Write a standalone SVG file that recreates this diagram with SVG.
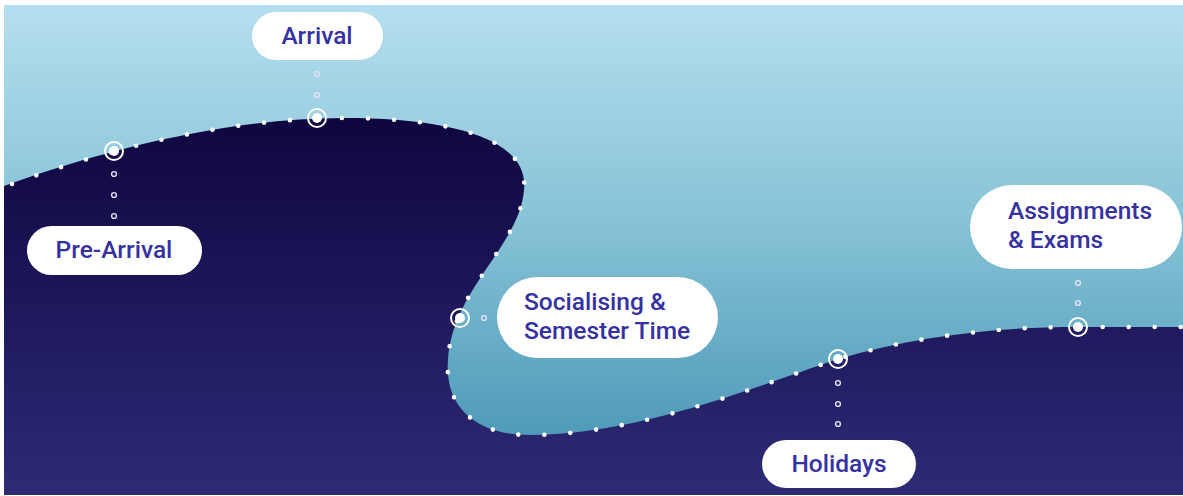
<svg xmlns="http://www.w3.org/2000/svg" width="1183" height="496" viewBox="0 0 1183 496">
  <defs>
    <linearGradient id="sky" x1="0" y1="5" x2="0" y2="495" gradientUnits="userSpaceOnUse">
      <stop offset="0" stop-color="#b5dfee"/>
      <stop offset="0.45" stop-color="#86c2d6"/>
      <stop offset="1" stop-color="#3f8fb0"/>
    </linearGradient>
    <linearGradient id="sea" x1="0" y1="118" x2="0" y2="495" gradientUnits="userSpaceOnUse">
      <stop offset="0" stop-color="#0f0640"/>
      <stop offset="1" stop-color="#2d2b76"/>
    </linearGradient>
    <style>
      .pill { fill: #ffffff; }
      .lbl { font-family: Roboto, "Liberation Sans", sans-serif; font-weight: 500; font-size: 24.5px; fill: #3631a0; }
      .ring { fill: none; stroke: #ffffff; stroke-width: 2; }
      .core { fill: #ffffff; }
      .cdot { fill: none; stroke: #e4e2f7; stroke-width: 1.4; }
      .trail { fill: none; stroke: #ffffff; stroke-width: 4.6; stroke-linecap: round; stroke-dasharray: 0 26; }
    </style>
  </defs>

  <rect x="0" y="0" width="1183" height="496" fill="#ffffff"/>
  <rect x="4" y="5" width="1179" height="490" fill="url(#sky)"/>

  <path id="land" fill="url(#sea)" d="M4,186 C110,148 230,118 345,118 C440,118 530,135 524,190 C520,245 452,290 448,360 C444,410 480,435 529,435 C640,435 760,385 838,359 C920,335 1000,327 1078,327 L1183,327 L1183,495 L4,495 Z"/>

  <path id="trail" class="trail" d="M12,184 C110,148 230,118 345,118 C440,118 530,135 524,190 C520,245 452,290 448,360 C444,410 480,435 529,435 C640,435 760,385 838,359 C920,335 1000,327 1078,327 L1183,327"/>

  <g id="connectors">
    <circle class="cdot" cx="114" cy="174" r="2.4"/>
    <circle class="cdot" cx="114" cy="195" r="2.4"/>
    <circle class="cdot" cx="114" cy="216" r="2.4"/>
    <circle class="cdot" cx="317" cy="74" r="2.4"/>
    <circle class="cdot" cx="317" cy="95" r="2.4"/>
    <circle class="cdot" cx="484" cy="318" r="2.4"/>
    <circle class="cdot" cx="838" cy="383" r="2.4"/>
    <circle class="cdot" cx="838" cy="404" r="2.4"/>
    <circle class="cdot" cx="838" cy="424" r="2.4"/>
    <circle class="cdot" cx="1078" cy="283" r="2.4"/>
    <circle class="cdot" cx="1078" cy="303" r="2.4"/>
  </g>

  <g id="pre-arrival">
    <circle class="ring" cx="114" cy="151" r="9"/>
    <circle class="core" cx="114" cy="151" r="5"/>
    <rect class="pill" x="27" y="226" width="175" height="49" rx="24.5"/>
    <text class="lbl" x="114" y="258" text-anchor="middle">Pre-Arrival</text>
  </g>

  <g id="arrival">
    <circle class="ring" cx="317" cy="118" r="9"/>
    <circle class="core" cx="317" cy="118" r="5"/>
    <rect class="pill" x="252" y="12" width="131" height="48" rx="24"/>
    <text class="lbl" x="317" y="44" text-anchor="middle">Arrival</text>
  </g>

  <g id="socialising">
    <circle class="ring" cx="460" cy="318" r="9"/>
    <circle class="core" cx="460" cy="318" r="5"/>
    <rect class="pill" x="497" y="277" width="221" height="81" rx="40.5"/>
    <text class="lbl" x="524" y="310">Socialising &amp;</text>
    <text class="lbl" x="524" y="339">Semester Time</text>
  </g>

  <g id="holidays">
    <circle class="ring" cx="838" cy="359" r="9"/>
    <circle class="core" cx="838" cy="359" r="5"/>
    <rect class="pill" x="762" y="440" width="154" height="48" rx="24"/>
    <text class="lbl" x="839" y="472" text-anchor="middle">Holidays</text>
  </g>

  <g id="assignments">
    <circle class="ring" cx="1078" cy="327" r="9"/>
    <circle class="core" cx="1078" cy="327" r="5"/>
    <rect class="pill" x="970" y="185" width="212" height="84" rx="42"/>
    <text class="lbl" x="1008" y="219">Assignments</text>
    <text class="lbl" x="1008" y="248">&amp; Exams</text>
  </g>
</svg>
